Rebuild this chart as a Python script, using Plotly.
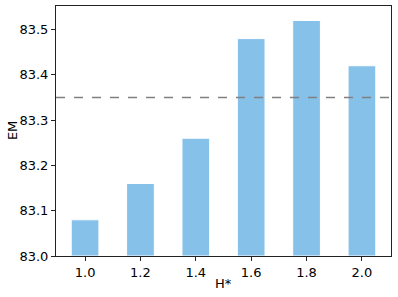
import plotly.graph_objects as go

h_star = [1.0, 1.2, 1.4, 1.6, 1.8, 2.0]
em = [83.08, 83.16, 83.26, 83.48, 83.52, 83.42]
tick_labels = ["1.0", "1.2", "1.4", "1.6", "1.8", "2.0"]
baseline = 83.35

fig = go.Figure()
fig.add_trace(go.Bar(
    x=h_star, y=[v - 83.0 for v in em], base=83.0, width=0.1,
    marker=dict(color="#85C1E9", line=dict(color="white", width=1)),
))
fig.add_hline(y=baseline, line=dict(color="gray", width=1.3, dash="dash"))

axis_common = dict(
    showgrid=False, zeroline=False, showline=True, linecolor="#222",
    linewidth=1, mirror=True, ticks="outside", ticklen=4, automargin=False,
    tickcolor="#222", tickfont=dict(size=13, color="black"),
)
fig.update_xaxes(
    range=[0.895, 2.105], tickvals=h_star, ticktext=tick_labels, **axis_common,
)
fig.update_yaxes(
    range=[83.0, 83.552], tickvals=[83.0, 83.1, 83.2, 83.3, 83.4, 83.5],
    ticktext=["83.0", "83.1", "83.2", "83.3", "83.4", "83.5"], **axis_common,
)
# axis titles
fig.add_annotation(text="H*", x=0.5, y=-0.108, xref="paper", yref="paper",
                   showarrow=False, yanchor="middle",
                   font=dict(size=13, color="black"))
fig.add_annotation(text="EM", x=-0.131, y=0.5, xref="paper", yref="paper",
                   showarrow=False, textangle=-90, xanchor="center",
                   font=dict(size=13, color="black"))
fig.update_layout(
    width=398, height=297, showlegend=False,
    plot_bgcolor="white", paper_bgcolor="white",
    font=dict(family="DejaVu Sans"),
    margin=dict(l=56, r=7, t=6, b=41),
)
# drop the page's default body margin so the figure sits at the corner
fig.write_html("out.html", config={"displayModeBar": False},
               post_script="document.body.style.margin='0';")
